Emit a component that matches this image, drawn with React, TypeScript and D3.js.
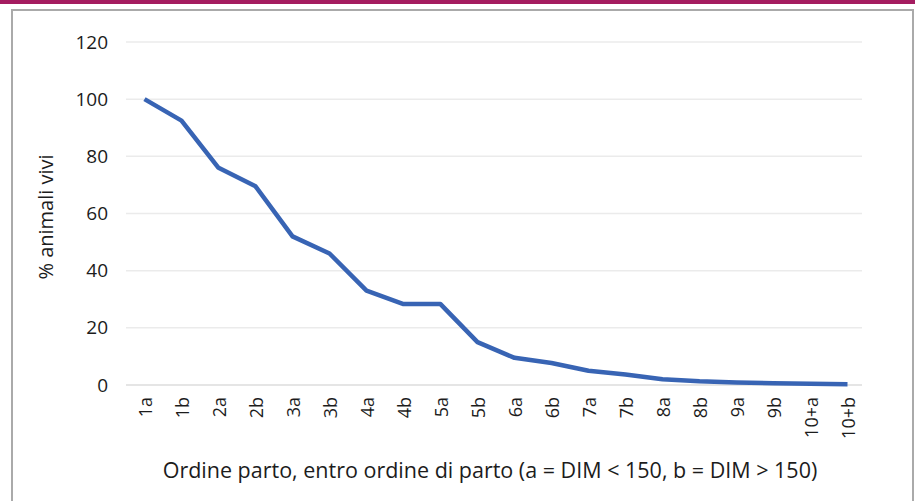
import { useEffect, useRef } from 'react'
import * as d3 from 'd3'

const categories = ['1a', '1b', '2a', '2b', '3a', '3b', '4a', '4b', '5a', '5b', '6a', '6b', '7a', '7b', '8a', '8b', '9a', '9b', '10+a', '10+b']
const aliveValues = [100, 92.5, 76, 69.5, 52, 46, 33, 28.3, 28.3, 15, 9.5, 7.7, 5, 3.7, 2, 1.3, 0.9, 0.6, 0.4, 0.3]
const yTicks = [0, 20, 40, 60, 80, 100, 120]

const yTitle = '% animali vivi'
const xTitle = 'Ordine parto, entro ordine di parto (a = DIM < 150, b = DIM > 150)'

export default function App() {
  const svgRef = useRef<SVGSVGElement>(null)

  useEffect(() => {
    if (!svgRef.current) return
    const width = 915
    const height = 501
    const font = 'Open Sans, Lato, sans-serif'
    const ink = '#1c1c1c'

    const svg = d3.select(svgRef.current)
    svg.selectAll('*').remove()

    svg.append('rect').attr('width', width).attr('height', height).attr('fill', '#fff')

    // barra in alto
    svg.append('rect')
      .attr('x', 0).attr('y', 0)
      .attr('width', width).attr('height', 4)
      .attr('fill', '#a41c60')

    // cornice grigia
    svg.append('rect')
      .attr('x', 12).attr('y', 10)
      .attr('width', width - 14).attr('height', height + 10)
      .attr('fill', 'none')
      .attr('stroke', '#aaaaaa')
      .attr('stroke-width', 2)

    const x = d3.scaleBand<string>()
      .domain(categories)
      .range([126, 866])

    const y = d3.scaleLinear()
      .domain([0, 120])
      .range([385, 42])

    // griglia
    svg.append('g')
      .selectAll('line')
      .data(yTicks)
      .enter()
      .append('line')
      .attr('x1', 126)
      .attr('x2', 862)
      .attr('y1', d => y(d))
      .attr('y2', d => y(d))
      .attr('stroke', d => d === 0 ? '#dcdcdc' : '#ebebeb')
      .attr('stroke-width', 1.5)

    // etichette asse y
    svg.append('g')
      .selectAll('text')
      .data(yTicks)
      .enter()
      .append('text')
      .attr('x', 108)
      .attr('y', d => y(d))
      .attr('dy', '0.35em')
      .attr('text-anchor', 'end')
      .attr('font-family', font)
      .attr('font-size', 19)
      .attr('fill', ink)
      .text(d => d)

    // etichette asse x (ruotate)
    svg.append('g')
      .selectAll('text')
      .data(categories)
      .enter()
      .append('text')
      .attr('transform', d => `translate(${(x(d) ?? 0) + x.bandwidth() / 2 + 1},397) rotate(-90)`)
      .attr('dy', '0.35em')
      .attr('text-anchor', 'end')
      .attr('font-family', font)
      .attr('font-size', 18)
      .attr('fill', ink)
      .text(d => d)

    // linea
    const line = d3.line<number>()
      .x((_, i) => (x(categories[i]) ?? 0) + x.bandwidth() / 2)
      .y(d => y(d))

    svg.append('path')
      .datum(aliveValues)
      .attr('d', line)
      .attr('fill', 'none')
      .attr('stroke', '#3864b4')
      .attr('stroke-width', 4.5)
      .attr('stroke-linejoin', 'round')

    // titoli
    svg.append('text')
      .attr('transform', 'translate(46,217) rotate(-90)')
      .attr('dy', '0.35em')
      .attr('text-anchor', 'middle')
      .attr('font-family', font)
      .attr('font-size', 20)
      .attr('fill', ink)
      .text(yTitle)

    svg.append('text')
      .attr('x', 490)
      .attr('y', 470)
      .attr('dy', '0.35em')
      .attr('text-anchor', 'middle')
      .attr('font-family', font)
      .attr('font-size', 21.5)
      .attr('fill', ink)
      .text(xTitle)
  }, [])

  return (
    <div style={{ position: 'fixed', top: 0, left: 0, width: 915, height: 501, overflow: 'hidden' }}>
      <svg ref={svgRef} width={915} height={501} style={{ display: 'block' }} />
    </div>
  )
}
